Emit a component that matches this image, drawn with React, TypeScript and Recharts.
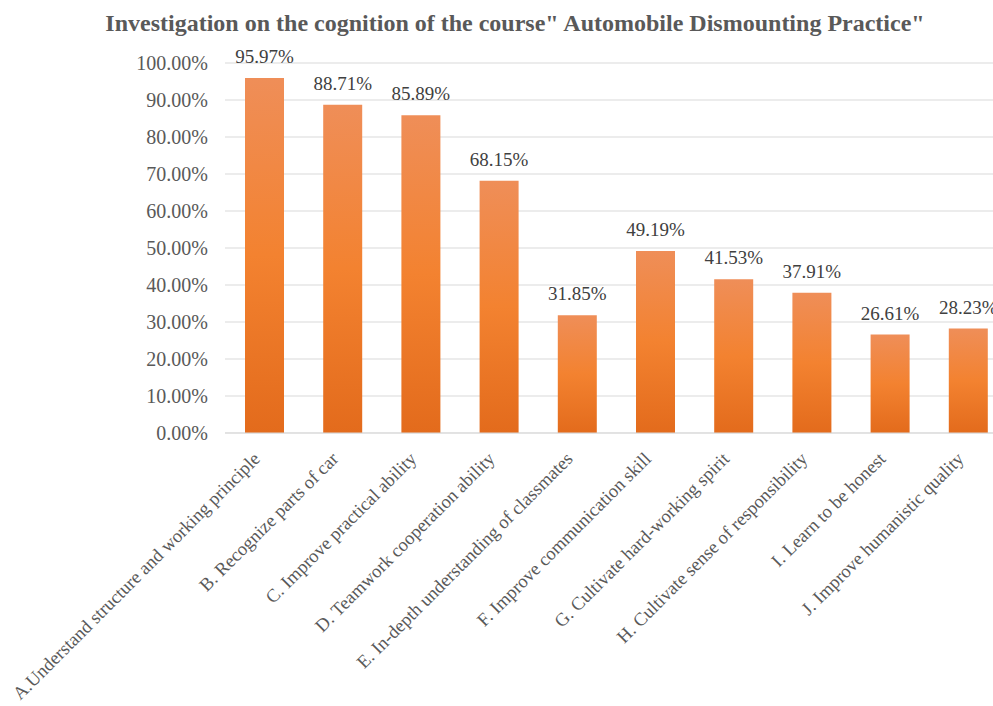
import React from "react";
import { BarChart, Bar, XAxis, YAxis, CartesianGrid, LabelList } from "recharts";

const categories = [
  "A.Understand structure and working principle",
  "B. Recognize parts of car",
  "C. Improve practical ability",
  "D. Teamwork cooperation ability",
  "E. In-depth understanding of classmates",
  "F. Improve communication skill",
  "G. Cultivate hard-working spirit",
  "H. Cultivate sense of responsibility",
  "I. Learn to be honest",
  "J. Improve humanistic quality",
];
const values = [95.97, 88.71, 85.89, 68.15, 31.85, 49.19, 41.53, 37.91, 26.61, 28.23];
const yTicks = [0, 10, 20, 30, 40, 50, 60, 70, 80, 90, 100];
const title = "Investigation on the cognition of the course\" Automobile Dismounting Practice\"";

const data = categories.map((name, i) => ({ name, value: values[i] }));

const FONT = "'Liberation Serif', 'Times New Roman', serif";

const XTick = (props: any) => {
  const { x, y, payload } = props;
  return (
    <g transform={`translate(${x - 3},${y + 19})`}>
      <text
        transform="rotate(-45)"
        textAnchor="end"
        fill="#595959"
        fontSize={18.5}
        fontFamily={FONT}
      >
        {payload.value}
      </text>
    </g>
  );
};

export default function App() {
  return (
    <div
      style={{
        position: "absolute",
        left: 0,
        top: 0,
        width: 993,
        height: 706,
        overflow: "hidden",
        background: "#fff",
      }}
    >
      <div
        style={{
          position: "absolute",
          left: 0,
          width: 1030,
          top: 8,
          textAlign: "center",
          fontFamily: FONT,
          fontWeight: "bold",
          fontSize: 24,
          lineHeight: "30px",
          color: "#595959",
          whiteSpace: "nowrap",
        }}
      >
        {title}
      </div>
      <BarChart
        width={1010}
        height={706}
        data={data}
        margin={{ top: 63, right: 3, bottom: 0, left: 0 }}
      >
        <defs>
          <linearGradient id="barGrad" x1="0" y1="0" x2="0" y2="1">
            <stop offset="0%" stopColor="#EF8E58" />
            <stop offset="50%" stopColor="#F38230" />
            <stop offset="100%" stopColor="#E36B1C" />
          </linearGradient>
        </defs>
        <CartesianGrid vertical={false} stroke="#D9D9D9" />
        <XAxis
          dataKey="name"
          interval={0}
          height={273}
          tick={<XTick />}
          tickLine={false}
          axisLine={{ stroke: "#D9D9D9" }}
        />
        <YAxis
          width={225}
          domain={[0, 100]}
          ticks={yTicks}
          tickFormatter={(v: number) => `${v.toFixed(2)}%`}
          axisLine={false}
          tickLine={false}
          tickSize={0}
          tickMargin={17}
          tick={{ fill: "#595959", fontSize: 20, fontFamily: FONT }}
        />
        <Bar dataKey="value" fill="url(#barGrad)" barSize={39} isAnimationActive={false}>
          <LabelList
            dataKey="value"
            position="top"
            offset={15}
            formatter={(v: number) => `${v.toFixed(2)}%`}
            fill="#404040"
            fontSize={19}
            fontFamily={FONT}
          />
        </Bar>
      </BarChart>
    </div>
  );
}
